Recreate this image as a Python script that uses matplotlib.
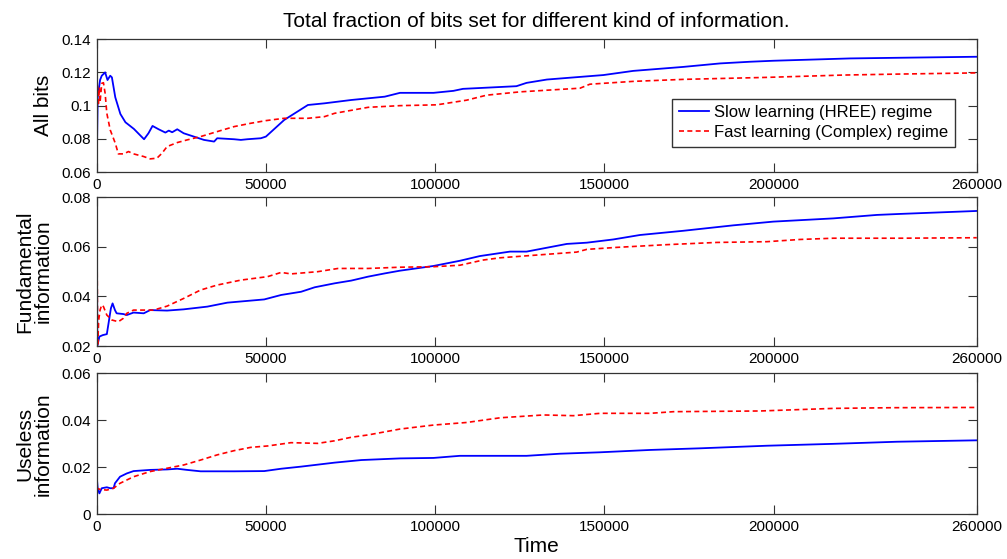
import matplotlib
matplotlib.use("Agg")
import matplotlib.pyplot as plt
from matplotlib.ticker import FuncFormatter

plt.rcParams["font.family"] = ["Liberation Sans", "DejaVu Sans"]

# time axis and series
# --- All bits
t_all_slow = [0, 300, 1000, 1500, 2500, 3200, 4000, 4500, 5500, 7000, 8500, 11000,
              14000, 15300, 16500, 18300, 20300, 21300, 22300, 23800, 25700, 28700,
              31700, 34700, 35600, 40600, 42600, 44500, 48500, 50000, 55400, 62400,
              67300, 75200, 85100, 89600, 99500, 105400, 108200, 124000, 127000,
              133000, 149700, 158500, 173300, 184200, 193000, 199900, 222600,
              237300, 260000]
all_slow = [0.06, 0.105, 0.1154, 0.118, 0.12, 0.1154, 0.118, 0.117, 0.105, 0.095,
            0.090, 0.086, 0.0798, 0.0834, 0.0878, 0.0858, 0.0838, 0.085, 0.084,
            0.0858, 0.0834, 0.0814, 0.0794, 0.0784, 0.0804, 0.0798, 0.0794, 0.0798,
            0.0804, 0.0814, 0.0914, 0.1004, 0.1014, 0.1034, 0.1054, 0.1077, 0.1077,
            0.1089, 0.1101, 0.1117, 0.1137, 0.1157, 0.1184, 0.1209, 0.1233, 0.1254,
            0.1264, 0.127, 0.1284, 0.1288, 0.1294]

t_all_fast = [0, 200, 500, 800, 1000, 1500, 2000, 2500, 3000, 4000, 5500, 6400, 8000,
              9400, 10900, 13900, 15800, 17800, 19300, 20800, 23800, 26700, 30700,
              35600, 40600, 45500, 50000, 55400, 62400, 67300, 70300, 80200, 89600,
              100500, 109300, 115200, 125100, 142800, 145700, 158500, 173300, 198000,
              220600, 237300, 260000]
all_fast = [0.06, 0.112, 0.100, 0.111, 0.102, 0.1134, 0.1138, 0.1074, 0.0954, 0.0854,
            0.0774, 0.071, 0.071, 0.0724, 0.071, 0.0694, 0.068, 0.0684, 0.0714, 0.0754,
            0.0778, 0.0794, 0.0814, 0.0844, 0.0874, 0.0894, 0.091, 0.0924, 0.0924,
            0.0934, 0.0954, 0.099, 0.1, 0.1005, 0.1033, 0.1063, 0.1083, 0.1105, 0.1129,
            0.1146, 0.1158, 0.117, 0.1184, 0.119, 0.1197]

# --- Fundamental information
t_fund_slow = [0, 200, 800, 1800, 3000, 3500, 4200, 4700, 5400, 5900, 7900, 8900,
               10900, 13900, 15800, 20800, 25700, 32700, 38600, 49500, 54500, 60400,
               64400, 70300, 75200, 80200, 85100, 89600, 99500, 107300, 113200,
               122100, 127000, 138900, 144800, 152600, 160500, 173300, 188100,
               199900, 217600, 230500, 237300, 260000]
fund_slow = [0.08, 0.02, 0.0238, 0.0244, 0.0248, 0.0291, 0.0352, 0.0372, 0.0345,
             0.0332, 0.0329, 0.0325, 0.0335, 0.0332, 0.0345, 0.0343, 0.0348, 0.0359,
             0.0375, 0.0388, 0.0406, 0.0419, 0.0437, 0.0453, 0.0464, 0.048, 0.0493,
             0.0504, 0.0523, 0.0544, 0.0563, 0.0581, 0.0581, 0.0612, 0.0617, 0.063,
             0.0648, 0.0665, 0.0687, 0.0702, 0.0715, 0.0729, 0.0733, 0.0745]

t_fund_fast = [0, 300, 600, 1000, 1500, 2000, 3000, 4500, 6400, 7900, 8900, 10900,
               13900, 16800, 20800, 25700, 30700, 35600, 42600, 50500, 54500, 57400,
               65300, 71300, 80200, 89600, 99500, 107300, 114200, 119200, 129000,
               141800, 144800, 153600, 168400, 183200, 198000, 207800, 217600,
               237300, 260000]
fund_fast = [0.08, 0.02, 0.0305, 0.0345, 0.0366, 0.0359, 0.0325, 0.0305, 0.0298,
             0.0312, 0.0332, 0.0345, 0.0345, 0.0345, 0.0361, 0.0392, 0.0426, 0.0446,
             0.0466, 0.048, 0.0497, 0.0491, 0.05, 0.0513, 0.0513, 0.0518, 0.052,
             0.0526, 0.0547, 0.0556, 0.0566, 0.0579, 0.059, 0.0598, 0.0609, 0.0618,
             0.0621, 0.063, 0.0635, 0.0635, 0.0637]

# --- Useless information
t_use_slow = [0, 100, 300, 800, 1500, 3000, 4000, 5000, 5400, 6900, 8900, 10900,
              15800, 20800, 23800, 26700, 30700, 40600, 49500, 54500, 60400, 70300,
              78200, 89600, 99500, 107300, 127000, 136900, 148700, 163500, 178300,
              198000, 217600, 236400, 260000]
use_slow = [0.0, 0.0146, 0.0111, 0.0089, 0.0111, 0.0115, 0.0111, 0.0111, 0.0132,
            0.016, 0.0174, 0.0184, 0.0189, 0.0191, 0.0194, 0.0189, 0.0183, 0.0183,
            0.0184, 0.0194, 0.0203, 0.022, 0.0231, 0.0238, 0.024, 0.0249, 0.0249,
            0.0258, 0.0264, 0.0274, 0.0281, 0.0292, 0.03, 0.0309, 0.0315]

t_use_fast = [0, 100, 1000, 3000, 5000, 6900, 10900, 15800, 20800, 25700, 30700,
              35600, 40600, 45500, 50500, 57400, 65300, 70300, 75200, 80200, 89600,
              99500, 109300, 119200, 132000, 140800, 148700, 163500, 170400, 196000,
              217600, 235400, 260000]
use_fast = [0.0, 0.0111, 0.0106, 0.0103, 0.0111, 0.0132, 0.016, 0.0182, 0.0196, 0.021,
            0.0231, 0.0253, 0.0271, 0.0285, 0.0291, 0.0305, 0.0302, 0.0313, 0.0328,
            0.0338, 0.0363, 0.038, 0.0391, 0.0411, 0.0423, 0.042, 0.043, 0.043, 0.0437,
            0.044, 0.0451, 0.0454, 0.0455]

x_ticks = [0, 50000, 100000, 150000, 200000, 260000]
panels = [
    ("All bits", t_all_slow, all_slow, t_all_fast, all_fast, (0.06, 0.14),
     [0.06, 0.08, 0.1, 0.12, 0.14]),
    ("Fundamental\ninformation", t_fund_slow, fund_slow, t_fund_fast, fund_fast,
     (0.02, 0.08), [0.02, 0.04, 0.06, 0.08]),
    ("Useless\ninformation", t_use_slow, use_slow, t_use_fast, use_fast, (0, 0.06),
     [0, 0.02, 0.04, 0.06]),
]

# axes boxes [left, bottom, width, height] in figure fractions
boxes = [
    [0.096, 0.692, 0.874, 0.238],
    [0.096, 0.381, 0.874, 0.266],
    [0.096, 0.080, 0.874, 0.252],
]

fig = plt.figure(figsize=(10.07, 5.59), dpi=100)
fmt = FuncFormatter(lambda v, pos: "%g" % v)

axes = []
for (ylabel, ts, ys, tf, yf, ylim, yticks), box in zip(panels, boxes):
    ax = fig.add_axes(box)
    ax.plot(ts, ys, color="#0000ff", linewidth=1.3,
            label="Slow learning (HREE) regime")
    ax.plot(tf, yf, color="#ff0000", linewidth=1.2, dashes=(3, 2),
            label="Fast learning (Complex) regime")
    ax.set_xlim(0, 260000)
    ax.set_ylim(*ylim)
    ax.set_xticks(x_ticks)
    ax.set_yticks(yticks)
    ax.yaxis.set_major_formatter(fmt)
    ax.set_ylabel(ylabel, fontsize=15, linespacing=0.95)
    ax.tick_params(direction="in", length=6.5, width=0.8, labelsize=11,
                   top=True, right=True, color="#333333", pad=4)
    for side in ["left", "bottom", "right", "top"]:
        ax.spines[side].set_color("#333333")
        ax.spines[side].set_linewidth(0.9)
    axes.append(ax)

for ax in axes:
    ax.yaxis.set_label_coords(-0.05, 0.5)

axes[0].legend(loc="lower left", bbox_to_anchor=(0.654, 0.19), fontsize=12,
               fancybox=False, framealpha=1, edgecolor="#333333",
               handlelength=1.8, borderpad=0.4, labelspacing=0.3,
               handletextpad=0.3, borderaxespad=0)
axes[0].set_title("Total fraction of bits set for different kind of information.",
                  fontsize=15, pad=9)
axes[2].set_xlabel("Time", fontsize=15, labelpad=2)

fig.savefig("out.png", dpi=100)
